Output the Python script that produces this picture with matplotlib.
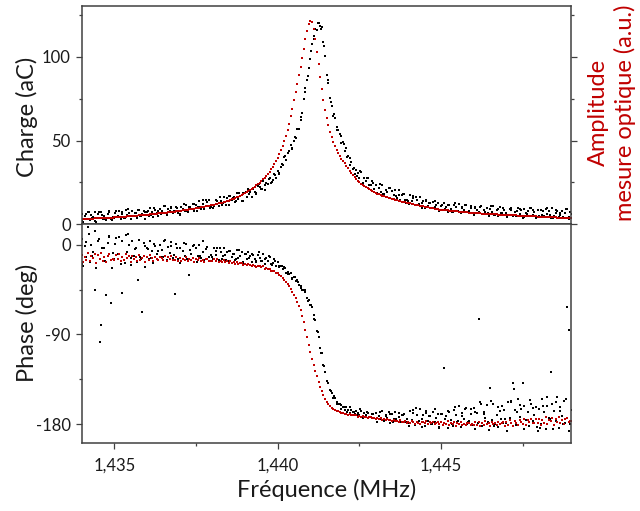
import numpy as np
import matplotlib
matplotlib.use("Agg")
import matplotlib.pyplot as plt
from matplotlib.ticker import FuncFormatter, MultipleLocator

# frequency sweep (MHz), one point every 50 Hz
freq = np.linspace(1.434, 1.449, 301)
# second (interleaved) sweep of the charge measurement, every 100 Hz
freq2 = np.linspace(1.434025, 1.448925, 150)

# optical amplitude (red), same scale as charge axis
red_amp = [
    3.0, 3.0, 3.1, 3.1, 3.2, 3.2, 3.3, 3.3, 3.4, 3.4, 3.5, 3.5, 3.6, 3.6, 3.7, 3.7, 3.8, 3.8, 3.9, 3.9,
    4.0, 4.1, 4.2, 4.2, 4.3, 4.4, 4.5, 4.5, 4.6, 4.7, 4.8, 4.8, 4.9, 5.0, 5.1, 5.2, 5.3, 5.3, 5.4, 5.5,
    5.6, 5.7, 5.8, 5.9, 6.0, 6.1, 6.2, 6.3, 6.4, 6.5, 6.6, 6.7, 6.8, 6.9, 7.0, 7.1, 7.3, 7.4, 7.5, 7.7,
    7.8, 7.9, 8.1, 8.2, 8.4, 8.5, 8.7, 8.8, 9.0, 9.2, 9.3, 9.5, 9.7, 9.9, 10.1, 10.3, 10.5, 10.7, 10.9, 11.1,
    11.3, 11.5, 11.8, 12.0, 12.3, 12.5, 12.8, 13.1, 13.4, 13.7, 14.0, 14.4, 14.7, 15.1, 15.5, 15.9, 16.3, 16.8, 17.3, 17.9,
    18.5, 19.1, 19.7, 20.3, 21.0, 21.7, 22.4, 23.2, 24.0, 24.8, 25.7, 26.7, 27.7, 28.8, 30.0, 31.3, 32.7, 34.2, 35.8, 37.6,
    39.6, 41.8, 44.2, 46.8, 49.7, 52.8, 56.0, 60.0, 64.5, 69.0, 74.0, 79.0, 84.0, 89.0, 94.0, 99.5, 105.0, 110.5, 115.5, 119.5,
    121.8, 121.0, 117.0, 110.5, 103.0, 95.5, 88.0, 81.0, 74.5, 68.5, 63.5, 59.0, 55.0, 52.0, 49.0, 46.5, 44.5, 42.5, 40.8, 39.2,
    37.8, 36.3, 34.8, 33.3, 31.9, 30.5, 29.2, 28.0, 26.9, 25.9, 25.0, 24.1, 23.3, 22.6, 21.9, 21.3, 20.7, 20.1, 19.6, 19.1,
    18.6, 18.2, 17.8, 17.4, 17.0, 16.6, 16.3, 16.0, 15.7, 15.4, 15.1, 14.8, 14.5, 14.2, 13.9, 13.7, 13.4, 13.2, 12.9, 12.7,
    12.5, 12.3, 12.1, 11.8, 11.6, 11.4, 11.2, 11.0, 10.8, 10.6, 10.4, 10.2, 10.0, 9.8, 9.6, 9.4, 9.2, 9.0, 8.8, 8.6,
    8.5, 8.4, 8.3, 8.2, 8.1, 8.0, 7.9, 7.8, 7.7, 7.6, 7.5, 7.4, 7.3, 7.2, 7.1, 7.0, 6.9, 6.8, 6.7, 6.6,
    6.5, 6.4, 6.4, 6.3, 6.3, 6.2, 6.2, 6.1, 6.1, 6.0, 6.0, 5.9, 5.9, 5.8, 5.8, 5.7, 5.7, 5.6, 5.6, 5.5,
    5.5, 5.4, 5.4, 5.3, 5.3, 5.2, 5.2, 5.1, 5.1, 5.0, 5.0, 4.9, 4.9, 4.8, 4.8, 4.7, 4.7, 4.6, 4.6, 4.5,
    4.5, 4.4, 4.4, 4.3, 4.3, 4.2, 4.2, 4.1, 4.1, 4.0, 4.0, 3.9, 3.9, 3.8, 3.8, 3.7, 3.7, 3.6, 3.6, 3.5,
    3.5,
]

# measured charge (black), aC
black_amp = [
    6.0, 1.5, 4.9, 3.1, 7.3, 2.3, 5.3, 4.1, 6.9, 1.5, 6.0, 3.7, 7.3, 2.8, 5.0, 2.3, 5.9, 6.9, 3.3, 4.2,
    3.5, 7.5, 4.5, 7.9, 2.9, 6.2, 3.6, 8.5, 5.2, 6.8, 3.0, 7.5, 4.9, 6.5, 3.8, 8.1, 4.9, 6.1, 7.7, 3.3,
    7.4, 4.8, 9.4, 7.1, 4.2, 8.5, 6.5, 5.1, 9.1, 8.0, 6.3, 10.6, 5.3, 9.0, 7.6, 10.4, 6.6, 7.3, 10.4, 6.7,
    5.7, 10.4, 9.0, 8.0, 11.5, 7.4, 10.3, 9.0, 11.8, 7.5, 11.6, 10.2, 13.7, 9.1, 11.9, 8.8, 14.1, 10.9, 14.1, 10.4,
    11.5, 10.8, 14.6, 13.9, 10.6, 13.5, 11.6, 16.4, 13.0, 15.6, 11.4, 17.0, 14.6, 16.0, 13.3, 18.7, 14.8, 16.9, 13.9, 18.8,
    18.4, 16.1, 21.0, 19.0, 16.4, 21.0, 19.4, 18.4, 22.8, 22.1, 20.8, 25.5, 20.6, 24.7, 23.7, 27.4, 24.5, 26.1, 30.1, 27.4,
    31.7, 30.4, 34.4, 35.2, 40.0, 38.6, 42.6, 43.8, 47.6, 45.5, 50.0, 51.4, 56.8, 56.8, 62.2, 66.4, 74.8, 81.4, 86.0, 93.6,
    99.0, 107.6, 110.6, 116.8, 116.4, 120.6, 118.8, 118.0, 108.8, 100.8, 89.2, 84.2, 75.4, 70.4, 64.6, 63.4, 58.2, 56.0, 54.0, 48.5,
    48.9, 43.7, 45.7, 40.8, 35.3, 37.0, 32.9, 29.9, 32.6, 30.4, 27.6, 31.0, 24.8, 27.7, 25.5, 27.6, 23.1, 23.1, 25.6, 21.2,
    23.1, 18.3, 21.3, 19.2, 23.1, 17.7, 20.4, 18.9, 21.3, 15.6, 19.8, 17.1, 20.4, 15.6, 17.4, 14.4, 17.6, 18.1, 14.1, 14.6,
    13.5, 17.1, 13.8, 16.8, 11.4, 14.4, 11.4, 15.9, 12.4, 13.7, 9.6, 13.9, 11.0, 12.3, 9.4, 13.4, 10.0, 11.1, 12.5, 7.9,
    10.9, 8.1, 12.5, 10.0, 7.0, 11.1, 8.9, 7.3, 11.2, 9.9, 8.0, 12.1, 6.7, 10.2, 8.6, 11.2, 7.3, 7.8, 10.7, 6.8,
    5.5, 9.9, 8.3, 7.0, 10.2, 5.9, 8.5, 7.0, 9.6, 5.0, 8.8, 7.3, 10.5, 5.7, 8.3, 5.0, 10.0, 6.7, 9.6, 5.7,
    6.5, 5.6, 9.1, 8.2, 4.6, 7.2, 5.1, 9.6, 5.9, 8.3, 3.8, 9.1, 6.4, 7.6, 4.6, 9.6, 5.4, 7.2, 3.9, 8.3,
    4.7, 8.6, 5.5, 4.9, 8.8, 6.0, 7.5, 3.9, 9.3, 5.0, 6.8, 8.0, 4.0, 5.5, 7.6, 3.4, 6.3, 8.7, 4.2, 6.9,
    5.8,
]

black_amp2 = [
    1.8, 5.8, 7.4, 3.6, 1.9, 6.9, 5.5, 3.2, 7.8, 2.2, 6.5, 4.8, 7.3, 3.5, 8.7, 4.7, 6.3, 8.5, 4.7, 7.2,
    7.5, 5.3, 9.4, 7.5, 6.2, 10.6, 5.7, 9.8, 7.6, 9.6, 5.8, 11.8, 7.7, 10.4, 12.2, 7.8, 9.9, 14.1, 12.9, 9.4,
    9.8, 14.1, 16.1, 12.6, 11.3, 16.6, 15.6, 13.7, 18.8, 13.8, 18.9, 17.9, 21.1, 18.1, 24.2, 21.0, 23.5, 26.7, 25.0, 29.5,
    29.7, 36.0, 41.0, 42.4, 45.0, 51.9, 56.9, 63.8, 78.8, 88.5, 103.8, 112.6, 120.2, 116.6, 106.5, 86.2, 73.2, 65.6, 56.5, 52.6,
    48.1, 40.3, 39.8, 33.4, 28.9, 31.9, 24.4, 27.6, 23.6, 24.6, 17.7, 23.7, 17.9, 20.1, 21.3, 15.1, 16.6, 20.4, 18.0, 12.6,
    11.9, 15.3, 16.3, 11.9, 9.7, 14.2, 12.3, 9.6, 13.8, 7.7, 11.2, 9.2, 11.5, 7.4, 12.4, 8.0, 9.3, 11.3, 7.3, 9.5,
    9.4, 6.8, 10.5, 8.2, 6.6, 10.6, 5.4, 9.2, 6.7, 8.4, 4.1, 9.7, 5.2, 7.5, 9.0, 4.1, 5.8, 9.7, 8.1, 4.2,
    4.1, 7.9, 9.4, 5.4, 3.6, 8.3, 6.8, 4.3, 8.8, 3.0,
]

# optical phase (red), degrees
red_phase = [
    -10, -17, -12, -15, -8, -16, -11, -13, -9, -18, -10, -14, -8, -16, -12, -17, -11, -9, -15, -14,
    -15, -10, -14, -9, -16, -12, -15, -9, -13, -11, -17, -11, -14, -12, -16, -10, -15, -13, -11, -17,
    -12.3, -15.0, -10.6, -13.0, -16.1, -11.9, -14.1, -15.6, -11.8, -13.0, -14.9, -10.7, -16.2, -12.6, -14.2, -11.5, -15.5, -14.9, -11.9, -15.8,
    -12.8, -15.9, -13.8, -15.0, -12.3, -15.8, -13.9, -14.7, -13.0, -16.7, -13.8, -15.4, -13.1, -16.2, -14.9, -16.7, -14.4, -13.9, -16.4, -15.9,
    -16.4, -14.5, -16.1, -14.6, -17.2, -15.7, -17.2, -14.9, -16.8, -16.1, -18.3, -16.2, -17.8, -17.2, -18.8, -16.9, -18.7, -18.4, -18.0, -20.5,
    -19.0, -20.1, -18.8, -19.9, -21.1, -20.0, -21.0, -21.8, -20.9, -21.6, -22.6, -21.6, -23.8, -23.1, -24.1, -23.8, -25.7, -26.1, -25.8, -27.8,
    -28.5, -30.0, -31.5, -33.0, -35.0, -37.0, -39.0, -41.5, -44.0, -47.0, -50.0, -53.5, -57.0, -61.0, -65.5, -71.0, -77.5, -85.0, -93.0, -100.5,
    -108.0, -114.5, -120.5, -126.5, -132.0, -137.5, -142.5, -147.0, -151.0, -154.5, -157.5, -160.0, -162.0, -163.5, -164.8, -165.8, -166.6, -167.3, -168.0, -168.5,
    -168.5, -170.1, -169.6, -170.4, -169.6, -171.3, -170.8, -171.3, -170.9, -172.6, -171.6, -172.5, -171.8, -173.3, -172.9, -173.8, -173.1, -173.0, -174.2, -174.2,
    -174.8, -173.4, -174.8, -173.7, -176.0, -174.8, -176.1, -174.4, -175.9, -175.5, -177.3, -175.7, -177.0, -176.6, -177.8, -176.4, -177.9, -177.6, -177.2, -179.2,
    -177.6, -179.0, -176.8, -178.1, -179.6, -177.5, -178.6, -179.5, -177.5, -178.2, -179.1, -177.1, -179.8, -178.1, -178.9, -177.6, -179.6, -179.4, -177.9, -179.9,
    -177.8, -180.9, -178.7, -180.0, -177.2, -180.7, -178.7, -179.6, -177.8, -181.5, -178.5, -180.2, -177.8, -180.9, -179.5, -181.4, -179.0, -178.5, -180.9, -180.4,
    -181.2, -178.0, -180.5, -177.6, -181.9, -179.1, -181.3, -177.3, -180.0, -178.7, -182.0, -178.1, -180.3, -179.0, -181.2, -177.6, -180.4, -179.3, -178.0, -181.7,
    -178.1, -181.1, -175.8, -178.5, -181.9, -176.9, -179.2, -180.9, -176.2, -177.5, -179.5, -174.5, -180.7, -176.4, -178.1, -174.8, -179.2, -178.5, -174.9, -179.3,
    -174.7, -180.6, -176.2, -178.5, -172.9, -179.6, -175.6, -177.1, -173.5, -180.6, -174.6, -177.7, -172.9, -178.8, -176.0, -179.5, -174.7, -173.4, -178.1, -176.8,
    -176.5,
]

# charge phase (black), degrees
black_phase = [
    5.8, -21.2, -1.4, -12.2, 18.0, -17.6, 0.4, -6.8, 14.0, -23.0, 4.0, -98.0, -80.0, -15.8, -3.2, -50.0, 2.2, 7.6, -58.0, -8.6,
    -14.0, 6.8, -9.2, 8.4, -18.8, -48.0, -15.6, 10.0, -7.6, 0.4, -20.4, 3.6, -10.8, -2.8, -17.2, 5.2, -12.4, -67.0, 2.0, -22.0,
    -3.4, -14.2, 3.8, -5.8, -17.8, -1.0, -9.4, -15.4, 0.2, -4.6, -11.8, 5.0, -16.6, -2.2, -8.2, 2.6, -13.0, -49.0, 1.4, -14.2,
    -2.6, -16.1, -6.2, -11.6, 1.0, -14.3, -30.0, -8.9, -0.8, -17.0, -3.5, -10.7, 0.1, -13.4, -7.1, -15.2, -4.4, -1.7, -12.5, -9.8,
    -12.5, -3.5, -10.6, -3.0, -15.0, -7.4, -13.8, -2.7, -10.5, -7.1, -16.3, -5.9, -12.3, -8.9, -15.3, -5.6, -13.4, -10.7, -7.3, -17.9,
    -9.5, -14.3, -7.1, -11.4, -16.7, -10.0, -13.8, -16.6, -10.4, -12.7, -16.0, -9.4, -18.8, -13.2, -16.1, -12.0, -19.0, -18.5, -14.0, -21.0,
    -17.5, -22.3, -21.0, -24.0, -22.0, -27.8, -26.8, -29.3, -28.5, -34.5, -32.3, -35.8, -34.8, -40.5, -40.8, -45.0, -45.0, -47.3, -53.3, -55.5,
    -60.0, -62.4, -70.4, -75.2, -86.6, -92.4, -103.2, -109.0, -120.2, -127.2, -136.8, -138.8, -145.6, -148.6, -153.4, -153.6, -158.3, -159.5, -160.0, -164.5,
    -162.6, -166.3, -162.6, -165.7, -169.3, -165.7, -168.3, -170.3, -166.8, -168.4, -170.6, -166.8, -172.6, -169.3, -171.1, -168.7, -172.9, -172.6, -169.9, -174.1,
    -168.9, -178.0, -171.5, -175.1, -166.8, -177.1, -171.2, -173.6, -168.3, -179.2, -170.3, -175.1, -168.0, -177.1, -173.0, -178.4, -171.3, -169.6, -176.9, -175.2,
    -178.5, -166.8, -175.8, -165.9, -181.2, -171.3, -179.4, -165.0, -174.9, -170.4, -182.1, -168.6, -176.7, -172.2, -180.3, -167.7, -177.6, -174.0, -169.5, -183.0,
    -169.9, -180.7, -124.0, -172.3, -184.3, -167.5, -175.9, -181.9, -166.3, -171.1, -178.3, -161.5, -183.1, -168.7, -174.7, -163.9, -179.5, -177.1, -165.1, -180.7,
    -163.6, -184.6, -169.2, -74.0, -158.0, -181.8, -167.8, -173.4, -160.8, -186.0, -144.0, -176.2, -159.4, -180.4, -170.6, -183.2, -166.4, -162.2, -179.0, -174.8,
    -179.0, -158.2, -174.2, -156.6, -139.0, -166.2, -180.6, -155.0, -172.6, -164.6, -139.0, -161.4, -175.8, -167.8, -182.2, -159.8, -177.4, -171.0, -163.0, -187.0,
    -164.9, -180.2, -154.7, -168.3, -185.3, -161.5, -173.4, -128.0, -159.8, -166.6, -176.8, -153.0, -183.6, -163.2, -171.7, -156.4, -178.5, -62.0, -85.0, -180.2,
    -166.0,
]

black_phase2 = [
    -19.6, 2.5, 11.0, -11.1, -45.0, 5.9, -2.6, -16.2, 9.3, -23.0, 0.8, -9.4, 4.2, -17.9, 11.0, -12.8, -4.3, -35.0, -14.5, -0.9,
    -4.2, -13.0, 1.3, -6.4, -11.9, 3.5, -15.2, -0.9, -9.7, -3.1, -18.5, 2.4, -14.1, -5.3, 0.2, -17.4, -10.8, 3.5, -2.0, -16.3,
    -13.9, -6.3, -3.5, -11.5, -15.3, -5.9, -9.1, -14.1, -5.3, -16.9, -8.8, -13.0, -8.8, -17.2, -7.5, -16.6, -14.2, -11.0, -19.8, -16.0,
    -21.5, -21.1, -22.8, -29.1, -33.6, -32.6, -37.5, -43.5, -45.3, -56.0, -60.5, -74.0, -87.5, -108.3, -121.5, -138.5, -146.8, -151.5, -159.8, -161.1,
    -162.5, -168.1, -162.9, -167.4, -170.8, -164.6, -173.8, -168.0, -172.5, -170.1, -177.5, -168.2, -175.9, -172.0, -169.7, -177.8, -175.0, -168.6, -171.3, -178.0,
    -182.0, -169.0, -163.9, -176.9, -182.8, -166.8, -171.7, -179.7, -164.6, -183.6, -169.5, -175.4, -167.3, -180.2, -163.1, -177.0, -171.9, -164.8, -177.7, -169.6,
    -167.5, -179.4, -159.9, -170.3, -177.8, -156.7, -182.2, -162.6, -174.6, -165.5, -186.5, -157.9, -145.0, -168.3, -160.8, -184.7, -175.7, -156.1, -163.6, -183.0,
    -183.6, -161.5, -153.0, -175.1, -185.3, -158.1, -166.6, -180.2, -154.7, -187.0,
]

RED = "#c00000"
FRAME = "#404040"
TEXT = "#1a1a1a"

plt.rcParams['font.family'] = ['Lato', 'DejaVu Sans']
plt.rcParams['axes.unicode_minus'] = False


def comma_fmt(x, pos):
    return f"{x:.3f}".replace(".", ",")


def style_axis(ax):
    for side in ax.spines.values():
        side.set_color(FRAME)
        side.set_linewidth(1.1)
    ax.tick_params(which="both", direction="out", color=FRAME, width=0.9,
                   labelsize=12, labelcolor=TEXT)
    ax.tick_params(which="major", length=4.5)
    ax.tick_params(which="minor", length=2.5)


def draw_series(ax, black_sets, red_vals):
    for xs, ys in black_sets:
        ax.plot(xs, ys, ls="none", marker="s", ms=1.8, mew=0, color="black")
    ax.plot(freq, red_vals, ls="none", marker="s", ms=2.0, mew=0, color=RED)


fig = plt.figure(figsize=(6.4, 5.11), dpi=100)
ax_top = fig.add_axes([0.128, 0.5616, 0.764, 0.4266])
ax_bot = fig.add_axes([0.128, 0.1331, 0.764, 0.4285], sharex=ax_top)

# top: amplitude
draw_series(ax_top, [(freq, black_amp), (freq2, black_amp2)], red_amp)
ax_top.set_ylim(0, 130.5)
ax_top.yaxis.set_major_locator(MultipleLocator(50))
ax_top.yaxis.set_minor_locator(MultipleLocator(25))
style_axis(ax_top)
ax_top.tick_params(which="both", right=True, top=False, labelbottom=False)
ax_top.set_ylabel("Charge (aC)", fontsize=17, color=TEXT)
ax_top.yaxis.set_label_coords(-0.09, 0.49)

# bottom: phase
draw_series(ax_bot, [(freq, black_phase), (freq2, black_phase2)], red_phase)
ax_bot.set_ylim(-199, 21)
ax_bot.yaxis.set_major_locator(MultipleLocator(90))
ax_bot.yaxis.set_minor_locator(MultipleLocator(45))
style_axis(ax_bot)
ax_bot.tick_params(which="both", right=False, top=False)
ax_bot.tick_params(axis="x", pad=6)
ax_bot.set_ylabel("Phase (deg)", fontsize=17, color=TEXT)
ax_bot.yaxis.set_label_coords(-0.09, 0.55)

ax_bot.set_xlim(1.43401, 1.44897)
ax_bot.xaxis.set_major_locator(MultipleLocator(0.005))
ax_bot.xaxis.set_minor_locator(MultipleLocator(0.0025))
ax_bot.xaxis.set_major_formatter(FuncFormatter(comma_fmt))
ax_bot.set_xlabel("Fréquence (MHz)", fontsize=17, color=TEXT)
ax_bot.xaxis.set_label_coords(0.5, -0.165)

fig.text(0.956, 0.779, "Amplitude\nmesure optique (a.u.)", rotation=90,
         ha="center", va="center", fontsize=17, color=RED,
         multialignment="center", linespacing=1.25)

fig.savefig("out.png", dpi=100)
